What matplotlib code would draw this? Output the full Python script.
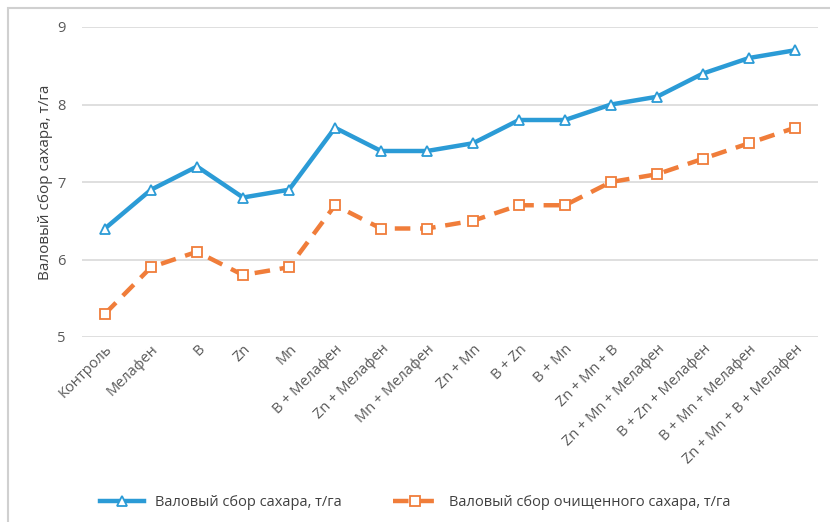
import matplotlib
matplotlib.use("Agg")
import matplotlib.pyplot as plt
from matplotlib.patches import Rectangle

categories = ["Контроль", "Мелафен", "B", "Zn", "Mn", "B + Мелафен", "Zn + Мелафен",
              "Mn + Мелафен", "Zn + Mn", "B + Zn", "B + Mn", "Zn + Mn + B",
              "Zn + Mn + Мелафен", "B + Zn + Мелафен", "B + Mn + Мелафен",
              "Zn + Mn + B + Мелафен"]
gross = [6.4, 6.9, 7.2, 6.8, 6.9, 7.7, 7.4, 7.4, 7.5, 7.8, 7.8, 8.0, 8.1, 8.4, 8.6, 8.7]
refined = [5.3, 5.9, 6.1, 5.8, 5.9, 6.7, 6.4, 6.4, 6.5, 6.7, 6.7, 7.0, 7.1, 7.3, 7.5, 7.7]
label_gross = "Валовый сбор сахара, т/га"
label_refined = "Валовый сбор очищенного сахара, т/га"
ylabel = "Валовый сбор сахара, т/га"
yticks = [5, 6, 7, 8, 9]

plt.rcParams['font.family'] = ['Open Sans', 'DejaVu Sans']

fig = plt.figure(figsize=(8.3, 5.22), dpi=100)
fig.patches.append(Rectangle((8/830, -0.01), 1.0, 1 - 8/522 + 0.01, transform=fig.transFigure,
                             fill=False, edgecolor="#d0d0d0", linewidth=1.5))
ax = fig.add_axes([82/830, 1 - 337/522, (818 - 82)/830, (337 - 27)/522])

x = list(range(len(categories)))
blue = "#2b9bd6"
orange = "#f07d3a"
ax.plot(x, gross, color=blue, lw=3.2, marker="^", ms=7, mfc="white", mec=blue, mew=1.3,
        label=label_gross, zorder=3)
ax.plot(x, refined, color=orange, lw=3.2, ls=(0, (3.5, 2.2)), marker="s", ms=7, mfc="white",
        mec=orange, mew=1.3, label=label_refined, zorder=3)

ax.set_xlim(-0.5, len(categories) - 0.5)
ax.set_ylim(5, 9)
ax.set_yticks(yticks)
ax.yaxis.grid(True, color="#d9d9d9", lw=1.2)
ax.set_axisbelow(True)
for s in ax.spines.values():
    s.set_visible(False)
ax.tick_params(axis="both", length=0, colors="#595959", labelsize=10.5)
ax.tick_params(axis="y", pad=12)
ax.set_xticks(x)
ax.set_xticklabels(categories, rotation=45, ha="right", rotation_mode="anchor", fontsize=10.5,
                   color="#595959")
ax.set_ylabel(ylabel, fontsize=11, color="#404040", labelpad=3)

fig.legend(loc="center", bbox_to_anchor=(0.5, 1 - 503/522), ncol=2, frameon=False,
           fontsize=10.5, handlelength=3.0, columnspacing=3.5, labelcolor="#404040")

fig.savefig("out.png", dpi=100)
